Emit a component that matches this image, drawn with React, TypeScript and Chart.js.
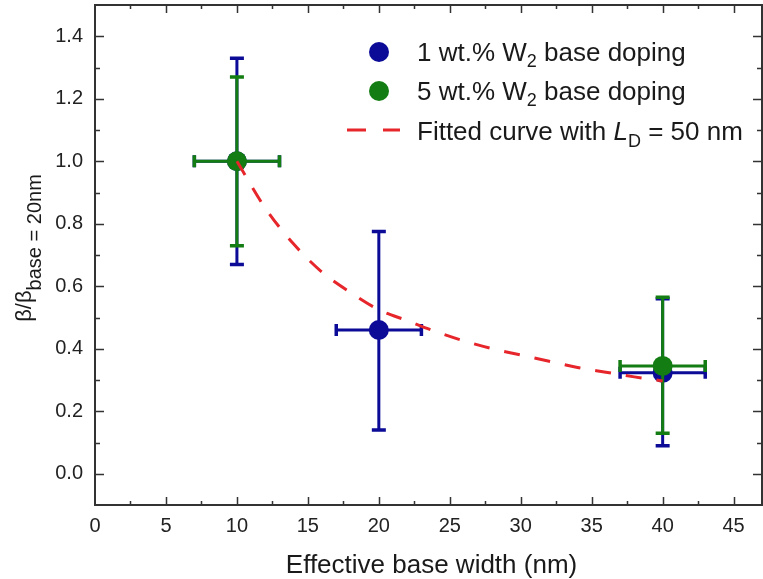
import React, { useEffect, useRef } from "react";
import { Chart, registerables } from "chart.js";

Chart.register(...registerables);

// ---- data ----
const xTicks = [0, 5, 10, 15, 20, 25, 30, 35, 40, 45];
const yTicks = [0, 0.2, 0.4, 0.6, 0.8, 1.0, 1.2, 1.4];

const blueX = [10, 20, 40];
const blueY = [1.0, 0.46, 0.323];
const blueYLow = [0.67, 0.14, 0.09];
const blueYHigh = [1.33, 0.775, 0.56];
const blueXErr = [3, 3, 3];

const greenX = [10, 40];
const greenY = [1.0, 0.345];
const greenYLow = [0.73, 0.13];
const greenYHigh = [1.27, 0.565];
const greenXErr = [3, 3];

const fitX = [10, 12, 14, 16, 18, 20, 22, 24, 26, 28, 30, 32, 34, 36, 38, 40];
const fitY = [1.0, 0.85, 0.735, 0.645, 0.58, 0.525, 0.49, 0.455, 0.425, 0.4, 0.38, 0.36, 0.34, 0.325, 0.31, 0.297];

const legendLabels = ["1 wt.% W", "5 wt.% W", "Fitted curve with "];

const BLUE = "#0b0b98";
const GREEN = "#137d13";
const RED = "#e6262b";
const FONT = "'Liberation Sans', Arial, Helvetica, sans-serif";

type Part = { t: string; s: number; italic?: boolean; dy?: number };

function drawRich(ctx: CanvasRenderingContext2D, parts: Part[], x: number, y: number) {
  let cx = x;
  for (const p of parts) {
    ctx.font = `${p.italic ? "italic " : ""}${p.s}px ${FONT}`;
    ctx.fillText(p.t, cx, y + (p.dy || 0));
    cx += ctx.measureText(p.t).width;
  }
}
function richWidth(ctx: CanvasRenderingContext2D, parts: Part[]) {
  let w = 0;
  for (const p of parts) {
    ctx.font = `${p.italic ? "italic " : ""}${p.s}px ${FONT}`;
    w += ctx.measureText(p.t).width;
  }
  return w;
}

const errorBarPlugin = {
  id: "errorBars",
  beforeDatasetDraw(chart: any, args: any) {
    const ds = chart.data.datasets[args.index] as any;
    if (!ds.errYLow) return;
    const ctx = chart.ctx as CanvasRenderingContext2D;
    const xs = chart.scales.x;
    const ys = chart.scales.y;
    ctx.save();
    ctx.strokeStyle = ds.backgroundColor;
    ctx.lineCap = "butt";
    ds.data.forEach((pt: any, i: number) => {
      const px = xs.getPixelForValue(pt.x);
      const py = ys.getPixelForValue(pt.y);
      const yl = ys.getPixelForValue(ds.errYLow[i]);
      const yh = ys.getPixelForValue(ds.errYHigh[i]);
      const xl = xs.getPixelForValue(pt.x - ds.errX[i]);
      const xh = xs.getPixelForValue(pt.x + ds.errX[i]);
      ctx.lineWidth = 3;
      ctx.beginPath();
      ctx.moveTo(px, yl);
      ctx.lineTo(px, yh);
      ctx.moveTo(xl, py);
      ctx.lineTo(xh, py);
      ctx.stroke();
      ctx.lineWidth = 3.5;
      ctx.beginPath();
      ctx.moveTo(px - 7, yl);
      ctx.lineTo(px + 7, yl);
      ctx.moveTo(px - 7, yh);
      ctx.lineTo(px + 7, yh);
      ctx.moveTo(xl, py - 6);
      ctx.lineTo(xl, py + 6);
      ctx.moveTo(xh, py - 6);
      ctx.lineTo(xh, py + 6);
      ctx.stroke();
    });
    ctx.restore();
  },
};

const framePlugin = {
  id: "frame",
  afterDatasetsDraw(chart: any) {
    const ctx = chart.ctx as CanvasRenderingContext2D;
    const { left, right, top, bottom } = chart.chartArea;
    const xs = chart.scales.x;
    const ys = chart.scales.y;
    ctx.save();
    ctx.strokeStyle = "#333";
    ctx.lineWidth = 2;
    ctx.strokeRect(left, top, right - left, bottom - top);
    ctx.lineWidth = 1.5;
    ctx.beginPath();
    for (let v = xs.min; v <= xs.max + 1e-9; v += 2.5) {
      const major = Math.abs(v / 5 - Math.round(v / 5)) < 1e-6;
      const len = major ? 8 : 4;
      const px = Math.round(xs.getPixelForValue(v)) + 0.5;
      if (px <= left + 1 || px >= right - 1) continue;
      ctx.moveTo(px, bottom);
      ctx.lineTo(px, bottom - len);
      ctx.moveTo(px, top);
      ctx.lineTo(px, top + len);
    }
    for (let k = -1; k <= 15; k++) {
      const v = k / 10;
      const major = k >= 0 && k % 2 === 0;
      const len = major ? 9 : 5;
      const py = Math.round(ys.getPixelForValue(v)) + 0.5;
      if (py <= top + 1 || py >= bottom - 1) continue;
      ctx.moveTo(left, py);
      ctx.lineTo(left + len, py);
      ctx.moveTo(right, py);
      ctx.lineTo(right - len, py);
    }
    ctx.stroke();
    ctx.restore();
  },
  afterDraw(chart: any) {
    const ctx = chart.ctx as CanvasRenderingContext2D;
    const { left, right, top, bottom } = chart.chartArea;
    ctx.save();
    ctx.fillStyle = "#1a1a1a";
    ctx.textBaseline = "alphabetic";
    ctx.textAlign = "left";

    // x-axis title
    ctx.font = `26px ${FONT}`;
    const xt = "Effective base width (nm)";
    const xw = ctx.measureText(xt).width;
    ctx.fillText(xt, (left + right) / 2 - xw / 2 + 3, 573);

    // y-axis title (rotated)
    const yParts: Part[] = [
      { t: "\u03b2/\u03b2", s: 22 },
      { t: "base = 20nm", s: 20, dy: 10 },
    ];
    const yw = richWidth(ctx, yParts);
    const cy = (top + bottom) / 2 - 7;
    ctx.translate(0, cy + yw / 2);
    ctx.rotate(-Math.PI / 2);
    drawRich(ctx, yParts, 0, 31);
    ctx.setTransform(1, 0, 0, 1, 0, 0);

    // legend
    const lx = left + 284;
    const tx = left + 322;
    const rows = [top + 47, top + 86, top + 125];
    ctx.fillStyle = BLUE;
    ctx.beginPath();
    ctx.arc(lx, rows[0], 10, 0, Math.PI * 2);
    ctx.fill();
    ctx.fillStyle = GREEN;
    ctx.beginPath();
    ctx.arc(lx, rows[1], 10, 0, Math.PI * 2);
    ctx.fill();
    ctx.strokeStyle = RED;
    ctx.lineWidth = 3;
    ctx.beginPath();
    ctx.moveTo(lx - 32, rows[2]);
    ctx.lineTo(lx - 13, rows[2]);
    ctx.moveTo(lx + 4, rows[2]);
    ctx.lineTo(lx + 21, rows[2]);
    ctx.stroke();

    ctx.fillStyle = "#1a1a1a";
    drawRich(ctx, [{ t: legendLabels[0], s: 26 }, { t: "2", s: 18, dy: 6 }, { t: " base doping", s: 26 }], tx, rows[0] + 9);
    drawRich(ctx, [{ t: legendLabels[1], s: 26 }, { t: "2", s: 18, dy: 6 }, { t: " base doping", s: 26 }], tx, rows[1] + 9);
    drawRich(
      ctx,
      [
        { t: legendLabels[2], s: 26 },
        { t: "L", s: 26, italic: true },
        { t: "D", s: 18, dy: 7 },
        { t: " = 50 nm", s: 26 },
      ],
      tx,
      rows[2] + 10
    );
    ctx.restore();
  },
};

function zeroPad(s: any) {
  s.paddingTop = 0;
  s.paddingBottom = 0;
  s.paddingLeft = 0;
  s.paddingRight = 0;
}

export default function App() {
  const ref = useRef<HTMLCanvasElement>(null);
  useEffect(() => {
    document.body.style.margin = "0";
    const canvas = ref.current;
    if (!canvas) return;
    Chart.defaults.font.family = FONT;
    const chart = new Chart(canvas, {
      type: "scatter",
      data: {
        datasets: [
          {
            label: "Fitted curve",
            data: fitX.map((x, i) => ({ x, y: fitY[i] })),
            showLine: true,
            borderColor: RED,
            backgroundColor: RED,
            borderWidth: 3,
            borderDash: [16, 15],
            pointRadius: 0,
            cubicInterpolationMode: "monotone",
            order: 0,
          } as any,
          {
            label: "5 wt.% W2 base doping",
            data: greenX.map((x, i) => ({ x, y: greenY[i] })),
            backgroundColor: GREEN,
            borderColor: GREEN,
            pointRadius: 10,
            borderWidth: 0,
            errX: greenXErr,
            errYLow: greenYLow,
            errYHigh: greenYHigh,
            order: 1,
          } as any,
          {
            label: "1 wt.% W2 base doping",
            data: blueX.map((x, i) => ({ x, y: blueY[i] })),
            backgroundColor: BLUE,
            borderColor: BLUE,
            pointRadius: 10,
            borderWidth: 0,
            errX: blueXErr,
            errYLow: blueYLow,
            errYHigh: blueYHigh,
            order: 2,
          } as any,
        ],
      },
      options: {
        responsive: false,
        animation: false,
        devicePixelRatio: 1,
        layout: { autoPadding: false, padding: { top: 5, right: 1, left: 0, bottom: 0 } },
        plugins: {
          legend: { display: false },
          title: { display: false },
          tooltip: { enabled: false },
        },
        scales: {
          x: {
            type: "linear",
            min: 0,
            max: 47,
            afterBuildTicks: (a: any) => {
              a.ticks = xTicks.map((v) => ({ value: v }));
            },
            afterFit: (s: any) => {
              s.height = 74;
              zeroPad(s);
            },
            grid: { display: false, drawTicks: false },
            border: { display: false },
            ticks: {
              font: { size: 20 },
              color: "#222",
              padding: 9,
              maxRotation: 0,
              autoSkip: false,
              callback: (v: any) => String(v),
            },
          },
          y: {
            type: "linear",
            min: -0.1,
            max: 1.5,
            afterBuildTicks: (a: any) => {
              a.ticks = yTicks.map((v) => ({ value: v }));
            },
            afterFit: (s: any) => {
              s.width = 95;
              zeroPad(s);
            },
            grid: { display: false, drawTicks: false },
            border: { display: false },
            ticks: {
              font: { size: 20 },
              color: "#222",
              padding: 12,
              autoSkip: false,
              callback: (v: any) => Number(v).toFixed(1),
            },
          },
        },
      },
      plugins: [errorBarPlugin, framePlugin],
    });
    return () => chart.destroy();
  }, []);
  return (
    <div style={{ width: 763, height: 579 }}>
      <canvas ref={ref} width={763} height={579} style={{ display: "block" }} />
    </div>
  );
}
